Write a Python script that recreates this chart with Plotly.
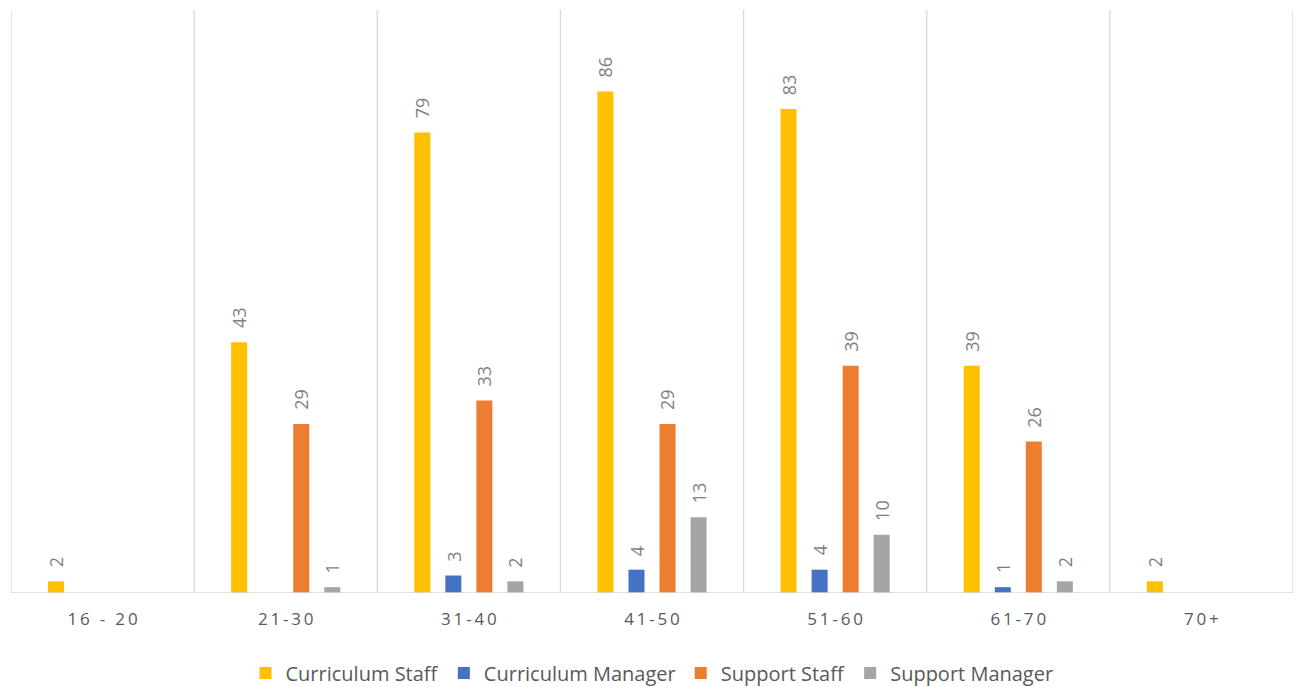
import plotly.graph_objects as go

# Age bands and head counts per staff group
age_bands = ["16 - 20", "21-30", "31-40", "41-50", "51-60", "61-70", "70+"]
curriculum_staff = [2, 43, 79, 86, 83, 39, 2]
curriculum_manager = [None, None, 3, 4, 4, 1, None]
support_staff = [None, 29, 33, 29, 39, 26, None]
support_manager = [None, 1, 2, 13, 10, 2, None]

series = [
    ("Curriculum Staff", curriculum_staff, "#FFC000"),
    ("Curriculum Manager", curriculum_manager, "#4472C4"),
    ("Support Staff", support_staff, "#ED7D31"),
    ("Support Manager", support_manager, "#A5A5A5"),
]

BARGAP = 0.322
BARGROUPGAP = 0.484
FONT = "Open Sans"
GRID = "#D9D9D9"


def spaced(label):
    # widen the tick labels with thin spaces between characters
    return "\u2009".join(label)


x_pos = list(range(len(age_bands)))
fig = go.Figure()
for name, vals, color in series:
    fig.add_trace(go.Bar(
        x=x_pos, y=vals, name=name,
        marker=dict(color=color, line=dict(width=0)),
        hoverinfo="skip",
    ))

# value labels above each bar, rotated
n = len(series)
slot = (1 - BARGAP) / n
annotations = []
for k, (name, vals, color) in enumerate(series):
    off = (k - (n - 1) / 2) * slot
    for i, v in enumerate(vals):
        if v is None:
            continue
        annotations.append(dict(
            x=i + off, y=v, xref="x", yref="y",
            text=str(v), showarrow=False, textangle=-90,
            xanchor="center", yanchor="bottom", yshift=12,
            font=dict(family=FONT, size=18, color="#7F7F7F"),
        ))

# vertical separators between age bands
shapes = []
for i in range(len(age_bands) + 1):
    shapes.append(dict(
        type="line", xref="x", yref="paper",
        x0=i - 0.5, x1=i - 0.5, y0=0, y1=1,
        line=dict(color=GRID, width=1.3), layer="below",
    ))
shapes.append(dict(
    type="line", xref="paper", yref="y",
    x0=0, x1=1, y0=0, y1=0,
    line=dict(color=GRID, width=1.3), layer="above",
))

fig.update_layout(
    width=1299, height=687,
    margin=dict(l=11, r=6, t=10, b=94),
    paper_bgcolor="white", plot_bgcolor="white",
    barmode="group", bargap=BARGAP, bargroupgap=BARGROUPGAP,
    showlegend=True,
    legend=dict(
        orientation="h", x=0.5, xanchor="center",
        y=14 / 687, yanchor="middle", yref="container",
        font=dict(family=FONT, size=20, color="#595959"),
        itemclick=False, itemdoubleclick=False,
    ),
    annotations=annotations,
    shapes=shapes,
    xaxis=dict(
        range=[-0.5, len(age_bands) - 0.5],
        tickvals=x_pos, ticktext=[spaced(a) for a in age_bands],
        showgrid=False, zeroline=False, showline=False, ticks="",
        ticklabelstandoff=14,
        tickfont=dict(family=FONT, size=17, color="#595959"),
        fixedrange=True,
    ),
    yaxis=dict(
        range=[0, 100], visible=False, showgrid=False, zeroline=False,
        fixedrange=True,
    ),
)

fig.write_html("out.html", config={"displayModeBar": False})
